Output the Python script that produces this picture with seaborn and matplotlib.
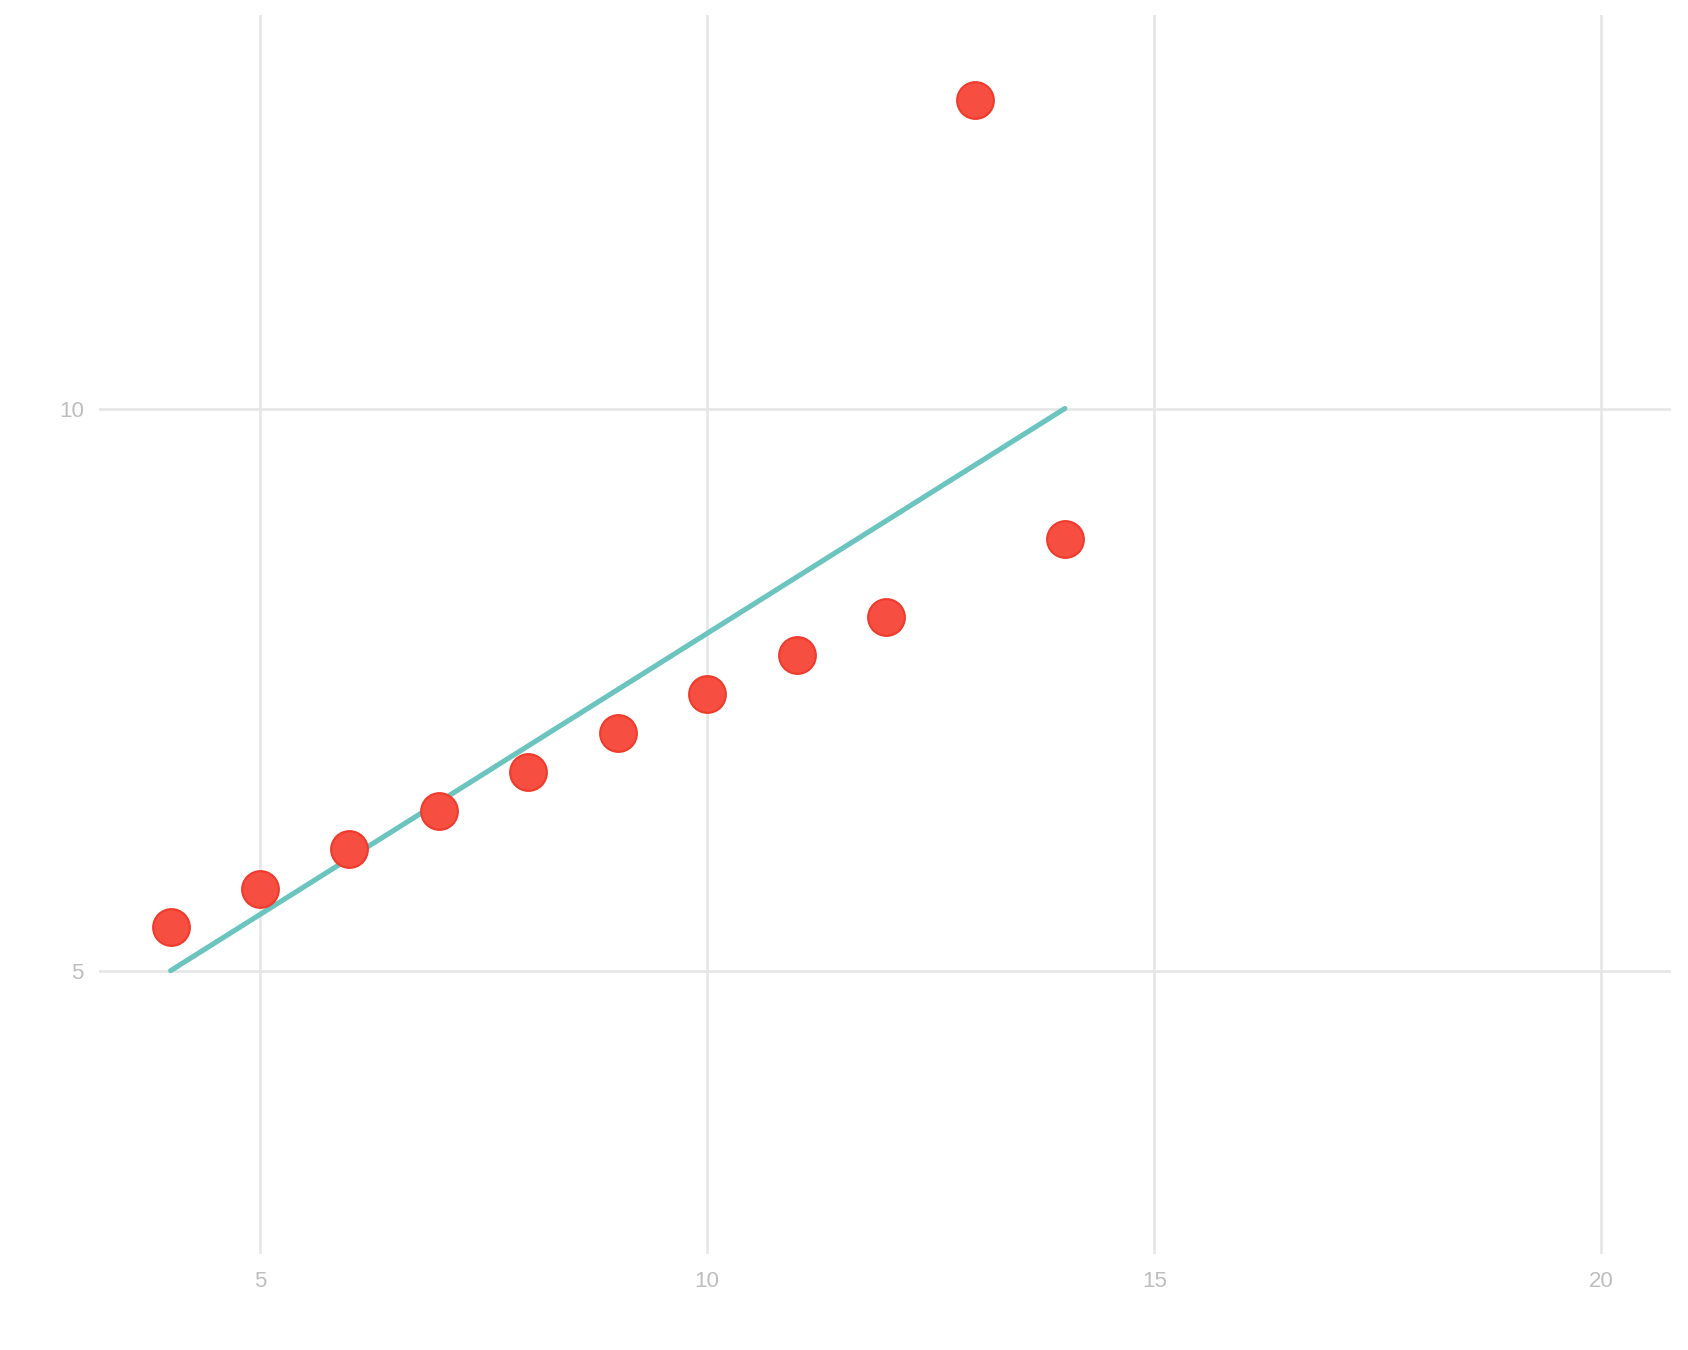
import seaborn as sns
import pandas as pd
import matplotlib.pyplot as plt

# Anscombe III
x_vals = [4, 5, 6, 7, 8, 9, 10, 11, 12, 13, 14]
y_vals = [5.39, 5.73, 6.08, 6.42, 6.77, 7.11, 7.46, 7.81, 8.15, 12.74, 8.84]
fit_x = [4, 14]
fit_y = [5, 10]
x_ticks = [5, 10, 15, 20]
y_ticks = [5, 10]

sns.set_style("white")
plt.rcParams['font.family'] = ['Liberation Sans', 'DejaVu Sans']

fig = plt.figure(figsize=(16.88, 13.5), dpi=100)
ax = fig.add_axes([0.0587, 0.0711, 0.9313, 0.9178])

df = pd.DataFrame({"x": x_vals, "y": y_vals})
fit = pd.DataFrame({"x": fit_x, "y": fit_y})

sns.lineplot(data=fit, x="x", y="y", color="#6cc4bf", linewidth=3.7, ax=ax, zorder=2)
sns.scatterplot(data=df, x="x", y="y", s=700, color="#f64f41",
                edgecolor="#ef3a2c", linewidth=1.5, alpha=1, ax=ax, zorder=3)

ax.set_xlim(3.2, 20.78)
ax.set_ylim(2.48, 13.5)
ax.set_xticks(x_ticks)
ax.set_yticks(y_ticks)
ax.grid(True, color="#e6e6e6", linewidth=1.9)
ax.set_axisbelow(True)
for s in ax.spines.values():
    s.set_visible(False)
ax.tick_params(length=0, labelsize=16, labelcolor="#bdbdbd")
ax.tick_params(axis="x", pad=12)
ax.tick_params(axis="y", pad=11)
ax.set_xlabel("")
ax.set_ylabel("")

plt.savefig("out.png", dpi=100)
